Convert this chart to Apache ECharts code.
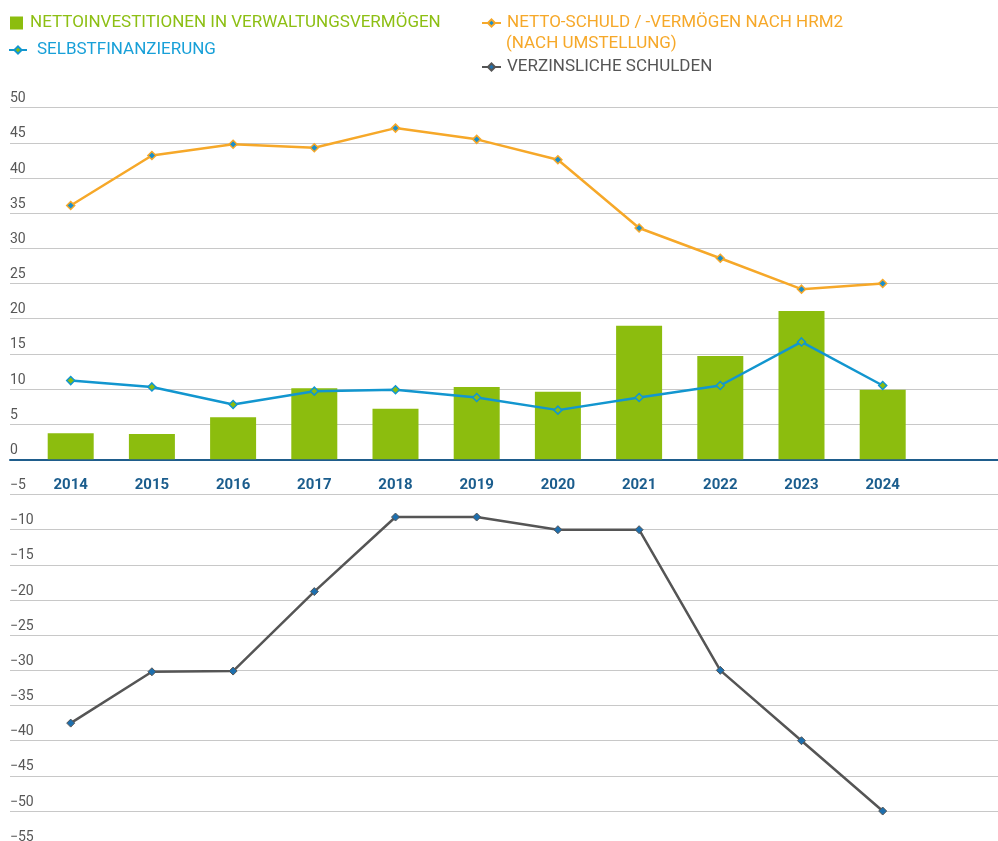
<!DOCTYPE html>
<html><head><meta charset="utf-8">
<script src="https://cdn.jsdelivr.net/npm/echarts@6/dist/echarts.min.js"></script>
<style>html,body{margin:0;padding:0;background:#fff}#c{width:998px;height:841px}</style>
</head><body><div id="c"></div>
<script>
// ---- data ----
const years = ['2014','2015','2016','2017','2018','2019','2020','2021','2022','2023','2024'];
const nettoinvestitionen = [3.7, 3.6, 6.0, 10.1, 7.2, 10.3, 9.6, 19.0, 14.7, 21.1, 9.9];
const selbstfinanzierung = [11.2, 10.3, 7.8, 9.7, 9.9, 8.8, 7.0, 8.8, 10.5, 16.7, 10.5];
const nettoSchuld = [36.1, 43.2, 44.8, 44.3, 47.1, 45.5, 42.6, 32.9, 28.6, 24.2, 25.0];
const verzinslicheSchulden = [-37.5, -30.2, -30.1, -18.8, -8.2, -8.2, -10.0, -10.0, -30.0, -40.0, -50.0];
const yMin = -55, yMax = 50, yStep = 5;

const N1 = 'NETTOINVESTITIONEN IN VERWALTUNGSVERMÖGEN';
const N2 = 'SELBSTFINANZIERUNG';
const N3 = 'NETTO-SCHULD / -VERMÖGEN NACH HRM2';
const N3b = '(NACH UMSTELLUNG)';
const N4 = 'VERZINSLICHE SCHULDEN';

const GREEN = '#8cbd0e', BLUE = '#1296cf', ORANGE = '#f6a829', GRAY = '#555555', MARK = '#1d6fae';
const FONT = 'Roboto';
const LFS = 17;
const categories = years.concat(['']);

const gridTop = 107.7, gridHeight = 738.5;
// distance from the zero line to the grid bottom, used to lift the category axis onto y = 0
const zeroOffset = -gridHeight * (0 - yMin) / (yMax - yMin);
const chart = echarts.init(document.getElementById('c'), null, {renderer: 'canvas'});
const legendBase = {padding: 0, itemGap: 0, selectedMode: false, orient: 'horizontal'};
chart.setOption({
  animation: false,
  backgroundColor: '#ffffff',
  legend: [
    Object.assign({}, legendBase, {left: 10, top: 14.5, icon: 'rect', itemWidth: 13, itemHeight: 13,
      data: [{name: N1, textStyle: {color: '#8dbf14'}}],
      textStyle: {fontFamily: FONT, fontSize: LFS, padding: [0,0,0,2]}}),
    Object.assign({}, legendBase, {left: 8, top: 41.5, itemWidth: 18, itemHeight: 9,
      data: [{name: N2, textStyle: {color: '#18a0d8'}}],
      textStyle: {fontFamily: FONT, fontSize: LFS, padding: [0,0,0,5]}}),
    Object.assign({}, legendBase, {left: 481, top: 14.5, itemWidth: 19, itemHeight: 9,
      data: [{name: N3, textStyle: {color: ORANGE}}],
      textStyle: {fontFamily: FONT, fontSize: LFS, padding: [0,0,0,1]}}),
    Object.assign({}, legendBase, {left: 481, top: 58.5, itemWidth: 19, itemHeight: 9,
      data: [{name: N4, textStyle: {color: GRAY}}],
      textStyle: {fontFamily: FONT, fontSize: LFS, padding: [0,0,0,1]}})
  ],
  graphic: [{
    type: 'text', x: 506, y: 43.5, silent: true,
    style: {text: N3b, fill: ORANGE, font: LFS + 'px ' + FONT, verticalAlign: 'middle', textVerticalAlign: 'middle'}
  }],
  grid: [
    {left: 10, right: 0, top: gridTop, height: gridHeight, containLabel: false, outerBoundsMode: 'none'},
    {left: 30.1, width: 974.4, top: gridTop, height: gridHeight, containLabel: false, outerBoundsMode: 'none'}
  ],
  xAxis: [
    {type: 'value', gridIndex: 0, min: 0, max: 1,
      axisLine: {show: true, onZero: true, lineStyle: {color: '#1f5d8c', width: 2}},
      axisTick: {show: false}, axisLabel: {show: false}, splitLine: {show: false}},
    {type: 'category', gridIndex: 1, data: categories, boundaryGap: true, position: 'bottom', offset: zeroOffset,
      axisLine: {show: false, onZero: false}, axisTick: {show: false}, splitLine: {show: false},
      axisLabel: {show: true, margin: 18, color: '#1b5d8d', fontFamily: FONT, fontWeight: 'bold', fontSize: 15, interval: 0}}
  ],
  yAxis: [
    {type: 'value', gridIndex: 0, min: yMin, max: yMax, interval: yStep,
      axisLine: {show: false}, axisTick: {show: false},
      splitLine: {show: true, lineStyle: {color: '#c8c8c8', width: 1.2}},
      axisLabel: {show: true, inside: true, margin: 0, align: 'left', verticalAlign: 'bottom',
        padding: [0,0,2,0], color: '#575757', fontFamily: FONT, fontSize: 14,
        formatter: v => (v < 0 ? '\u2212' + Math.abs(v) : String(v))}},
    {type: 'value', gridIndex: 1, min: yMin, max: yMax, interval: yStep, show: false,
      splitLine: {show: false}}
  ],
  series: [
    {name: N1, type: 'bar', xAxisIndex: 1, yAxisIndex: 1, data: nettoinvestitionen,
      barWidth: 46, itemStyle: {color: GREEN}, z: 2},
    {name: N2, type: 'line', xAxisIndex: 1, yAxisIndex: 1, data: selbstfinanzierung,
      symbol: 'diamond', symbolSize: 8, showAllSymbol: true,
      lineStyle: {color: BLUE, width: 2.5}, itemStyle: {color: GREEN, borderColor: BLUE, borderWidth: 1.5}, z: 4},
    {name: N3, type: 'line', xAxisIndex: 1, yAxisIndex: 1, data: nettoSchuld,
      symbol: 'diamond', symbolSize: 8, showAllSymbol: true,
      lineStyle: {color: ORANGE, width: 2.5}, itemStyle: {color: '#1a8fcc', borderColor: ORANGE, borderWidth: 1.5}, z: 4},
    {name: N4, type: 'line', xAxisIndex: 1, yAxisIndex: 1, data: verzinslicheSchulden,
      symbol: 'diamond', symbolSize: 8, showAllSymbol: true,
      lineStyle: {color: GRAY, width: 2.5}, itemStyle: {color: MARK, borderColor: GRAY, borderWidth: 1}, z: 4}
  ]
});
</script>
</body></html>
